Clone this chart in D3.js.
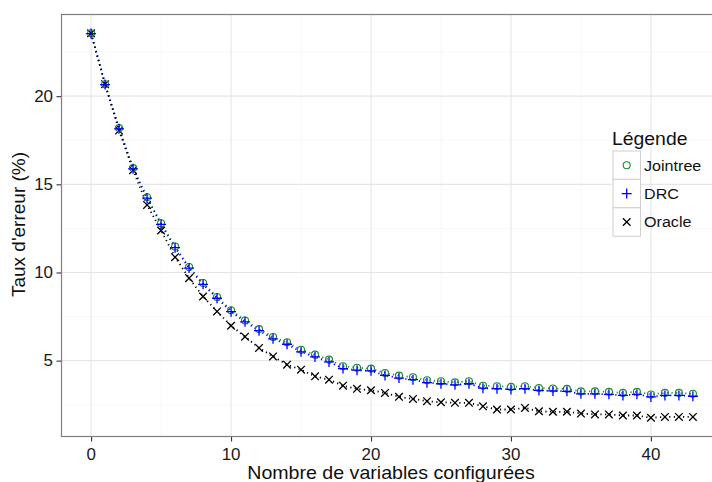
<!DOCTYPE html>
<html><head><meta charset="utf-8">
<script src="https://cdn.jsdelivr.net/npm/d3@7"></script>
<style>body{margin:0;background:#fff;} text{font-family:"Liberation Sans",Arial,sans-serif;}</style>
</head><body>
<svg id="c" width="712" height="482"></svg>
<script>
const xs = d3.range(0, 44);
const jointree = [23.57,20.68,18.19,15.92,14.27,12.79,11.47,10.31,9.40,8.61,7.86,7.28,6.79,6.34,6.04,5.62,5.34,5.06,4.68,4.60,4.55,4.30,4.15,4.06,3.89,3.83,3.77,3.83,3.58,3.55,3.51,3.55,3.45,3.42,3.40,3.26,3.26,3.23,3.17,3.23,3.08,3.17,3.17,3.12];
const drc      = [23.55,20.66,18.15,15.88,14.22,12.73,11.41,10.25,9.33,8.54,7.78,7.20,6.70,6.24,5.93,5.50,5.21,4.93,4.55,4.46,4.42,4.16,4.01,3.92,3.75,3.69,3.63,3.69,3.44,3.41,3.37,3.41,3.31,3.28,3.26,3.12,3.12,3.09,3.03,3.09,2.94,3.03,3.03,2.98];
const oracle   = [23.57,20.68,18.05,15.80,13.83,12.38,10.87,9.68,8.64,7.79,6.98,6.36,5.72,5.24,4.77,4.49,4.11,3.92,3.58,3.40,3.32,3.17,2.95,2.83,2.70,2.64,2.61,2.61,2.41,2.23,2.23,2.32,2.13,2.10,2.10,2.00,1.95,1.95,1.89,1.89,1.76,1.81,1.81,1.81];
const xTicks = [0,10,20,30,40];
const yTicks = [5,10,15,20];
const seriesNames = ["Jointree","DRC","Oracle"];
const seriesColors = ["#1b8a3a","#0000ff","#000000"];

const svg = d3.select("#c");
const L = 61, T = 14, R = 723, B = 437;
const SX = 1.06;
const allV = jointree.concat(drc, oracle);
const ymin = d3.min(allV), ymax = d3.max(allV);
const ypad = (ymax - ymin) * 0.05;
const x = d3.scaleLinear().domain([-2.15, 45.15]).range([L, R]);
const y = d3.scaleLinear().domain([ymin - ypad, ymax + ypad]).range([B, T]);

function stext(parent, tx, ty, str, fs, anchor) {
  return parent.append("text").attr("transform", `translate(${tx},${ty}) scale(${SX},1)`)
    .attr("text-anchor", anchor || "start").style("font-size", fs + "px").attr("fill", "#111").text(str);
}

const g = svg.append("g");
g.append("rect").attr("x", L).attr("y", T).attr("width", R - L).attr("height", B - T).attr("fill", "#fff");
// minor grid
[5,15,25,35,45].forEach(v => g.append("line").attr("x1", x(v)).attr("x2", x(v)).attr("y1", T).attr("y2", B).attr("stroke", "#f3f3f3").attr("stroke-width", 0.6));
[2.5,7.5,12.5,17.5,22.5].forEach(v => g.append("line").attr("y1", y(v)).attr("y2", y(v)).attr("x1", L).attr("x2", R).attr("stroke", "#f3f3f3").attr("stroke-width", 0.6));
xTicks.forEach(v => g.append("line").attr("x1", x(v)).attr("x2", x(v)).attr("y1", T).attr("y2", B).attr("stroke", "#e6e6e6").attr("stroke-width", 1.1));
yTicks.forEach(v => g.append("line").attr("y1", y(v)).attr("y2", y(v)).attr("x1", L).attr("x2", R).attr("stroke", "#e6e6e6").attr("stroke-width", 1.1));

// lines
const series = [jointree, drc, oracle];
const line = d3.line().x((d, i) => x(xs[i])).y(d => y(d));
series.forEach((s, k) => {
  g.append("path").attr("d", line(s)).attr("fill", "none").attr("stroke", seriesColors[k])
   .attr("stroke-width", 1.8).attr("stroke-dasharray", "1.2,3.4");
});

// points
function drawShape(sel, k, cx, cy) {
  if (k === 0) {
    sel.append("circle").attr("cx", cx).attr("cy", cy).attr("r", 3.5).attr("fill", "none").attr("stroke", seriesColors[0]).attr("stroke-width", 1.1);
  } else if (k === 1) {
    const a = 5;
    sel.append("path").attr("d", `M${cx - a},${cy}H${cx + a}M${cx},${cy - a}V${cy + a}`).attr("stroke", seriesColors[1]).attr("stroke-width", 1.3).attr("fill", "none");
  } else {
    const a = 3.8;
    sel.append("path").attr("d", `M${cx - a},${cy - a}L${cx + a},${cy + a}M${cx - a},${cy + a}L${cx + a},${cy - a}`).attr("stroke", seriesColors[2]).attr("stroke-width", 1.3).attr("fill", "none");
  }
}
[2, 0, 1].forEach(k => {
  series[k].forEach((v, i) => drawShape(g, k, x(xs[i]), y(v)));
});

// border
svg.append("rect").attr("x", L + 0.5).attr("y", T + 0.5).attr("width", R - L).attr("height", B - T - 1).attr("fill", "none").attr("stroke", "#7f7f7f").attr("stroke-width", 1.2);

// axes (ticks via d3 axes, labels re-styled)
const xa = svg.append("g").attr("transform", `translate(0,${B})`).call(d3.axisBottom(x).tickValues(xTicks).tickSize(4.5).tickFormat(""));
const ya = svg.append("g").attr("transform", `translate(${L},0)`).call(d3.axisLeft(y).tickValues(yTicks).tickSize(4.5).tickFormat(""));
[xa, ya].forEach(a => {
  a.select(".domain").remove();
  a.selectAll(".tick line").attr("stroke", "#333").attr("stroke-width", 1.1);
});
xTicks.forEach(v => stext(svg, x(v), 460, d3.format("d")(v), 16, "middle").attr("fill", "#1a1a1a"));
yTicks.forEach(v => stext(svg, 53, y(v) + 5.7, d3.format("d")(v), 16, "end").attr("fill", "#1a1a1a"));

stext(svg, 391, 479, "Nombre de variables configurées", 18.5, "middle");
svg.append("text").attr("transform", `translate(25,${(T + B) / 2 - 1}) rotate(-90)`).attr("text-anchor", "middle").style("font-size", "19px").attr("fill", "#111").text("Taux d'erreur (%)");

// legend
const lg = svg.append("g");
stext(lg, 612, 144.5, "Légende", 18.3);
seriesNames.forEach((n, k) => {
  const ky = 151 + k * 28.4;
  lg.append("rect").attr("x", 613).attr("y", ky).attr("width", 27.5).attr("height", 28.4).attr("fill", "#fff").attr("stroke", "#cfcfcf").attr("stroke-width", 1);
  drawShape(lg, k, 626.7, ky + 14.2);
  stext(lg, 644, ky + 19.6, n, 15.2);
});
</script>
</body></html>
